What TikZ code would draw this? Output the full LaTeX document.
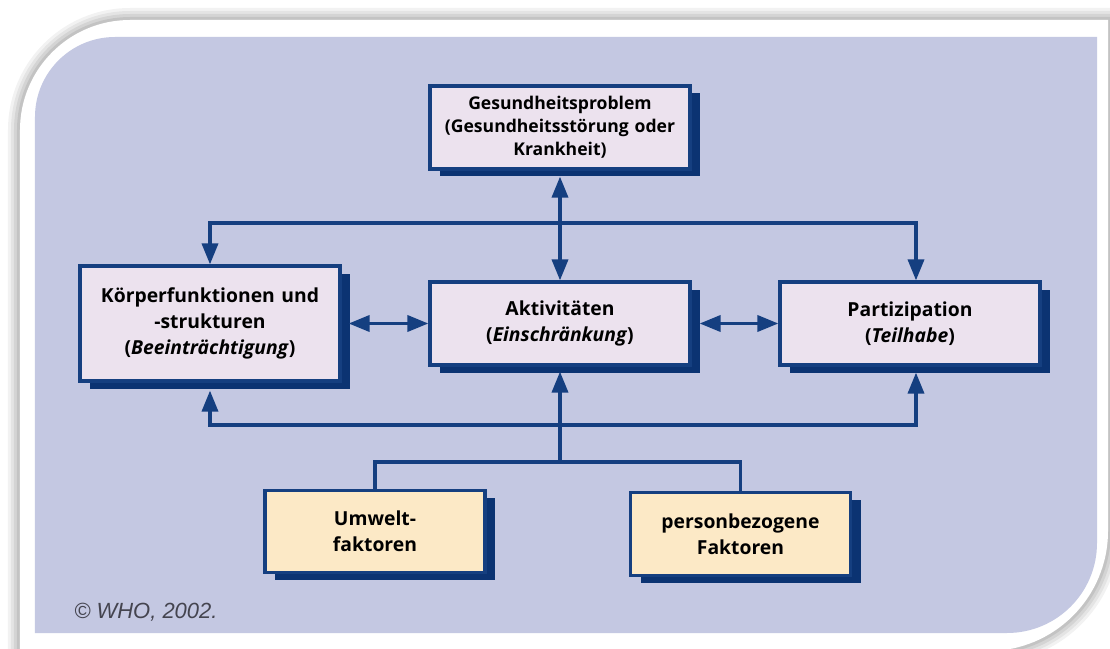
\documentclass[tikz,border=0pt]{standalone}
\usepackage{fontspec}
\newfontfamily\labelfont{Open Sans}
\newfontfamily\notefont{Liberation Sans}
\usetikzlibrary{arrows.meta,shadows}
\definecolor{bgblue}{HTML}{C4C8E2}
\definecolor{boxfill}{HTML}{ECE2EE}
\definecolor{navy}{HTML}{153F80}
\definecolor{shadowblue}{HTML}{0B3372}
\definecolor{factfill}{HTML}{FCE9C6}
\definecolor{copygray}{HTML}{44444F}
\newcommand{\frameshape}[1]{(-10.8-#1,-6.55-#1) -- (-10.8-#1,3.87) arc[start angle=180,end angle=90,radius=2.2+#1] -- (10.96+#1,6.07+#1) -- (10.96+#1,-4.15) arc[start angle=0,end angle=-90,radius=2.4+#1] -- cycle}
\tikzset{
>={Triangle[width=3.2mm,length=4.2mm]},
	box1/.style={
		rectangle,
		sharp corners,
		fill=boxfill,
		draw=navy, line width=1.8pt,
		text width=5.1cm,
		minimum height=1.66cm,
		inner sep=0.05cm,
		text centered,
		font=\labelfont\bfseries\fontsize{11}{15}\selectfont,
		drop shadow={shadow xshift=0.2cm, shadow yshift=-0.15cm, fill=shadowblue, opacity=1}},
	box2/.style={
		rectangle,
		sharp corners,
		fill=factfill,
		draw=navy, line width=1.8pt,
		text width=4.3cm,
		minimum height=1.65cm,
		inner sep=0.05cm,
		text centered,
		font=\labelfont\bfseries\fontsize{11}{15}\selectfont,
		drop shadow={shadow xshift=0.2cm, shadow yshift=-0.15cm, fill=shadowblue, opacity=1}},
	link/.style={draw=navy, line width=2pt}
}
\begin{document}
\begin{tikzpicture}
[node distance=2cm]
\useasboundingbox (-11.2,-6.49) rectangle (11,6.47);
\foreach \d/\o in {0.24/0.05,0.18/0.06,0.12/0.07,0.06/0.08}
	\fill[black, opacity=\o] \frameshape{\d};
\fill[white] \frameshape{0};
\fill[bgblue] (-10.5,-6.19) -- (-10.5,4.13) arc[start angle=180,end angle=90,radius=1.6] -- (10.74,5.73) -- (10.74,-4.39) arc[start angle=0,end angle=-90,radius=1.8] -- cycle;
\node[box1] (akt) {Aktivitäten\\(\textit{Einschränkung})};
\node[box1, left of=akt, xshift=-5cm, minimum height=2.3cm] (koerper) {Körperfunktionen und\\-strukturen\\(\textit{Beeinträchtigung})};
\node[box1, right of=akt, xshift=5cm] (partiz) {Partizipation\\(\textit{Teilhabe})};
\node[box1, above of=akt, yshift=1.92cm, font=\labelfont\bfseries\fontsize{10}{13}\selectfont] (gesund) {Gesundheitsproblem\\(Gesundheitsstörung oder\\Krankheit)};
\node[box2, below of=akt, xshift=-3.7cm, yshift=-2.16cm] (umwelt) {Umwelt-\\faktoren};
\node[box2, below of=akt, xshift=3.61cm, yshift=-2.21cm] (person) {personbezogene\\Faktoren};
\node[anchor=base west, inner sep=0, text=copygray, font=\notefont\itshape\fontsize{12.5}{14}\selectfont] (copyright) at (-9.72,-5.89) {© WHO, 2002.};
\coordinate (topjoin) at (0,2.01);
\coordinate (botjoin) at (0,-2.03);
\coordinate (factjoin) at (0,-2.77);
\draw[link, <->, shorten <=0.12cm] (gesund) -- (akt);
\draw[link, ->] (topjoin) -| (koerper);
\draw[link, ->] (topjoin) -| ([xshift=0.12cm]partiz.north);
\draw[link, ->, shorten >=0.16cm] (botjoin) -| (koerper);
\draw[link, ->, shorten >=0.12cm] (botjoin) -| ([xshift=0.12cm]partiz.south);
\draw[link, ->, shorten >=0.1cm] (factjoin) -- (akt);
\draw[link] (umwelt) |- (factjoin);
\draw[link] (person) |- (factjoin);
\draw[link, <->, shorten <=0.14cm] (koerper) -- (akt);
\draw[link, <->, shorten <=0.16cm] (akt) -- (partiz);
\end{tikzpicture}
\end{document}
